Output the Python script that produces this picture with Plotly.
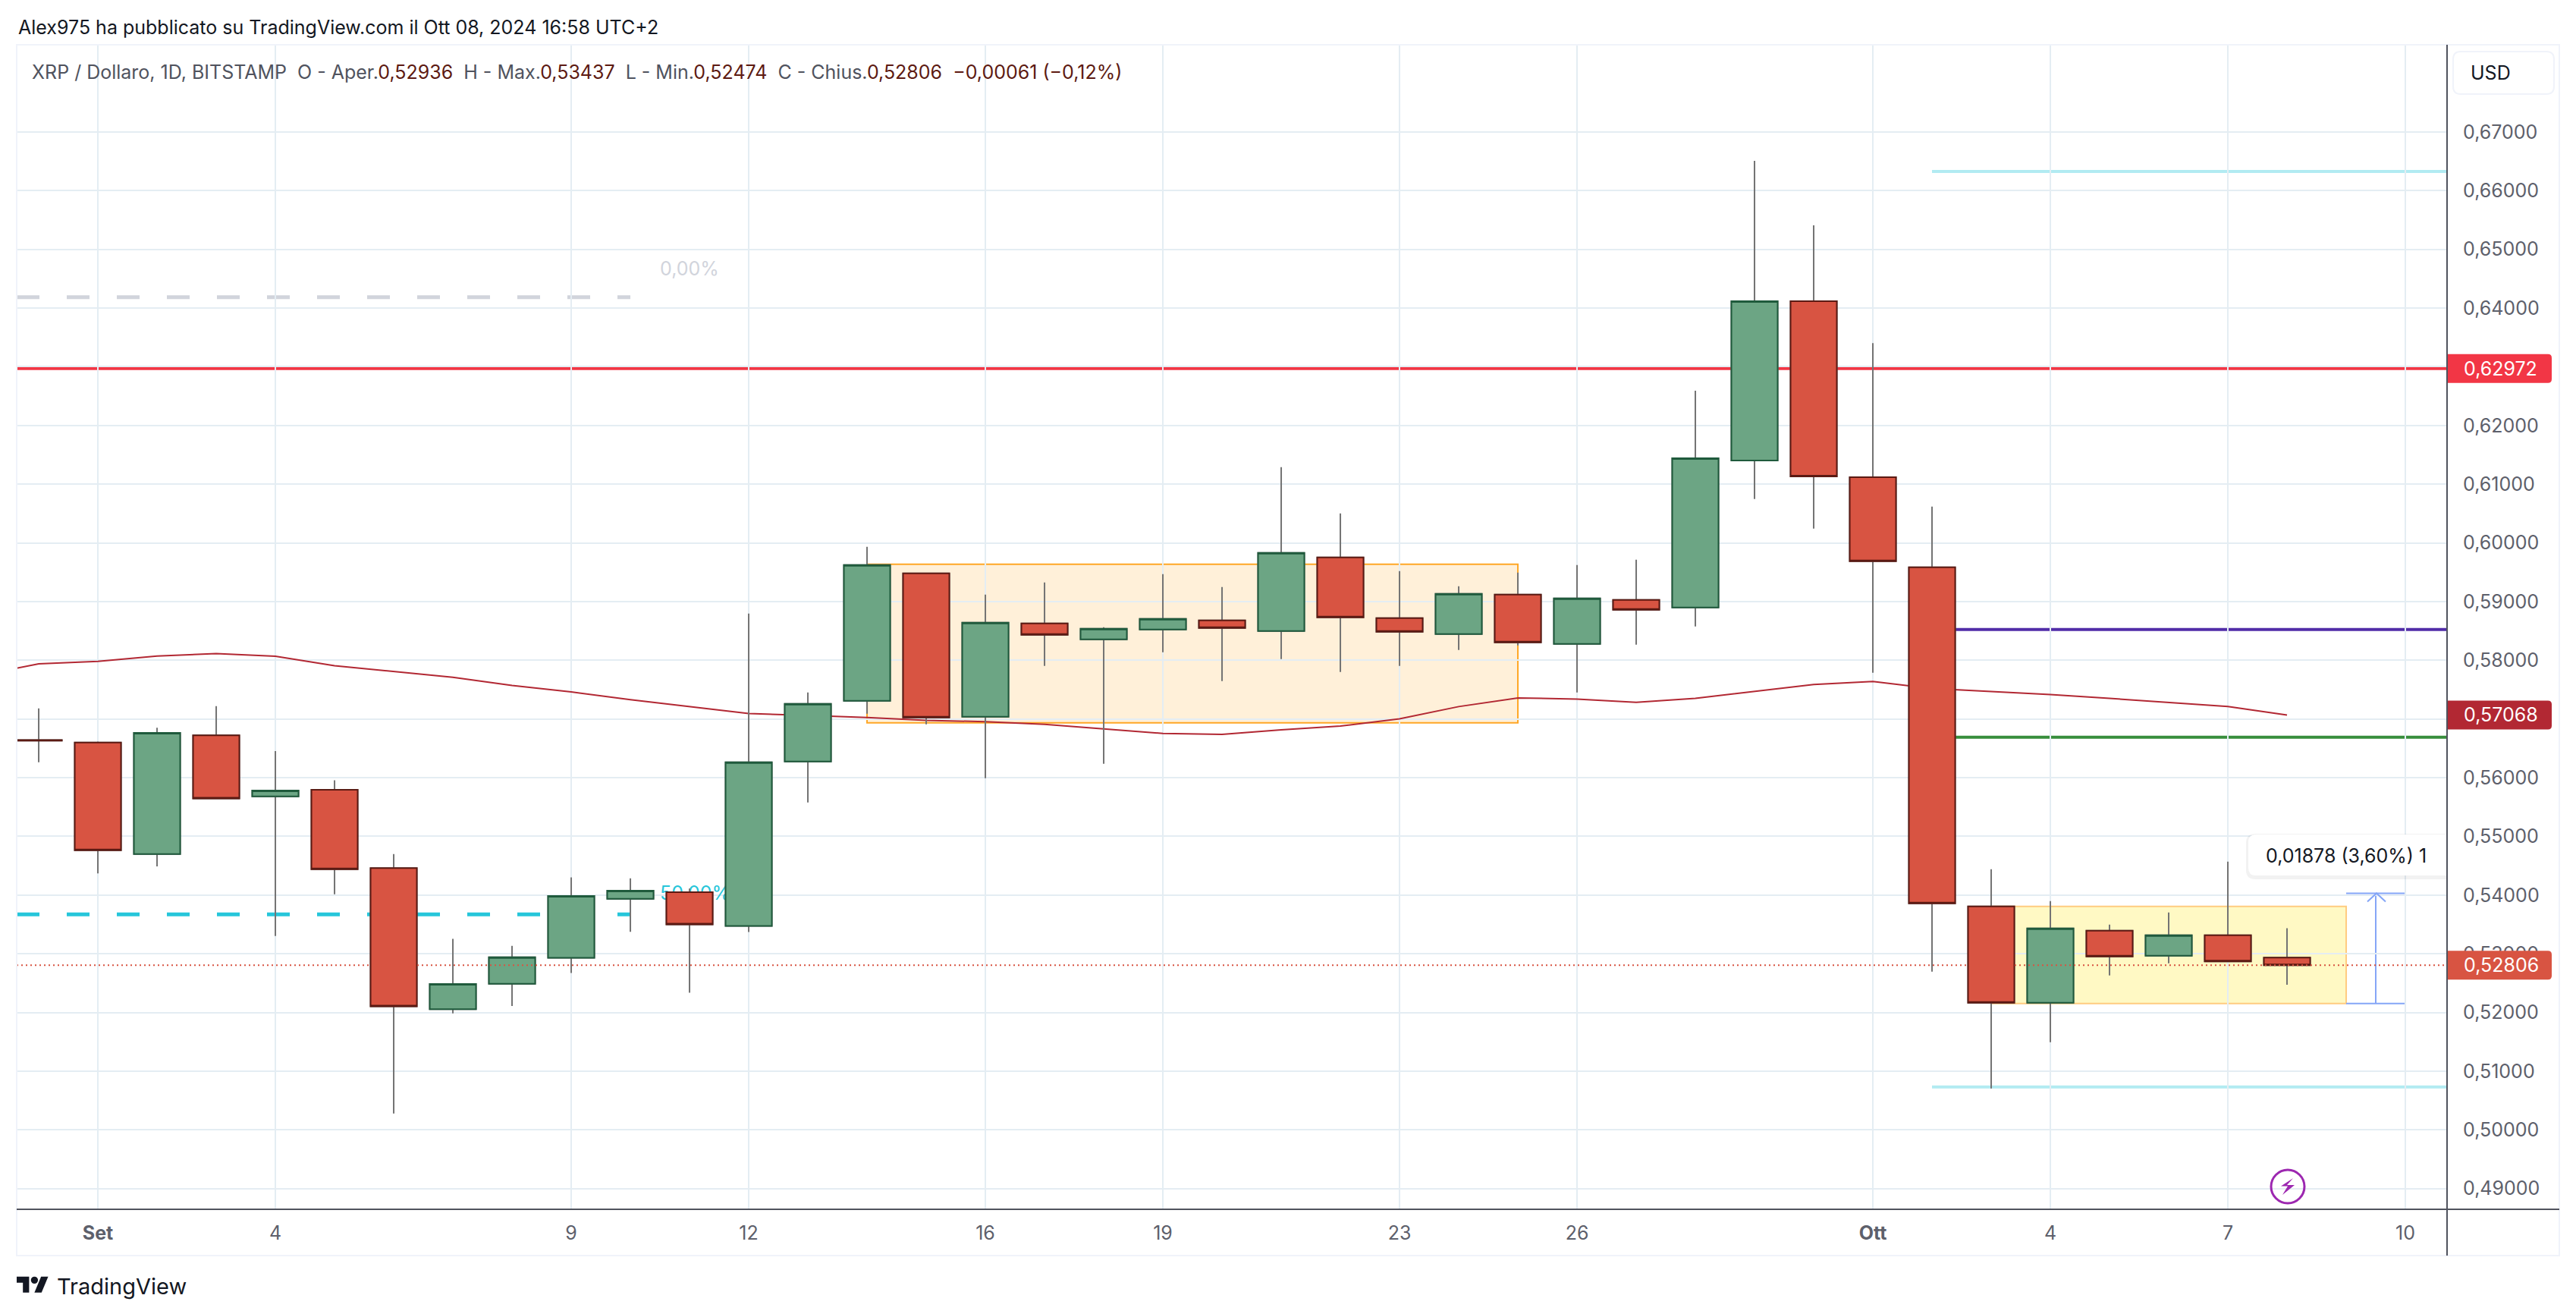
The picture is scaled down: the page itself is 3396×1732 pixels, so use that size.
import plotly.graph_objects as go

W, H = 3396, 1732
L_PX, R_PX, T_PX, B_PX = 22, 3226, 59, 1594
FRAME_R, FRAME_B = 3374, 1655
FONT = "Inter"

dates = ["2024-08-31","2024-09-01","2024-09-02","2024-09-03","2024-09-04","2024-09-05","2024-09-06","2024-09-07",
         "2024-09-08","2024-09-09","2024-09-10","2024-09-11","2024-09-12","2024-09-13","2024-09-14","2024-09-15",
         "2024-09-16","2024-09-17","2024-09-18","2024-09-19","2024-09-20","2024-09-21","2024-09-22","2024-09-23",
         "2024-09-24","2024-09-25","2024-09-26","2024-09-27","2024-09-28","2024-09-29","2024-09-30","2024-10-01",
         "2024-10-02","2024-10-03","2024-10-04","2024-10-05","2024-10-06","2024-10-07","2024-10-08"]
opens  = [.5664,.5660,.5470,.5672,.55682,.55794,.54461,.52056,.5249,.52933,.53935,.54048,.53473,.56276,.5731,.59482,
          .57039,.58629,.58357,.58525,.5868,.58499,.59753,.58719,.58448,.5912,.5828,.59029,.589,.61402,.64116,.61118,
          .59583,.53807,.52166,.53394,.52967,.53316,.52936]
highs  = [.5718,.56614,.5685,.5722,.56453,.55955,.547,.53255,.53136,.543,.54286,.5411,.58797,.57452,.59934,.59482,
          .5912,.59327,.58564,.59469,.59249,.61291,.60503,.5952,.59262,.59495,.59624,.59714,.62591,.66508,.65409,.63405,
          .60617,.54441,.53898,.53497,.53704,.5457,.53437]
lows   = [.56264,.5437,.5449,.5565,.53304,.54013,.5028,.51986,.52112,.52673,.53374,.52337,.5337,.55578,.5709,.5691,
          .55992,.57905,.56237,.58137,.57646,.58021,.57801,.57905,.58176,.58254,.57452,.58267,.58577,.60748,.60244,.57787,
          .52696,.50705,.51495,.52631,.52838,.5287,.52474]
closes = [.5663,.54763,.56762,.55647,.5578,.5444,.52105,.52484,.5294,.53985,.54076,.535,.56263,.57259,.59624,.57026,
          .58642,.58435,.58538,.58706,.58551,.59831,.58732,.58486,.59133,.58305,.59055,.58861,.61441,.64116,.61131,.59687,
          .53859,.52166,.53433,.52954,.53316,.5287,.52806]

ma_dates = ["2024-08-30"] + dates
ma_values = [.5774,.5794,.57981,.58073,.58114,.58068,.57906,.57808,.5771,.57571,.57462,.57329,.57208,.57092,.5706,.57026,
             .56978,.56953,.5691,.56832,.56754,.56737,.56815,.56879,.57004,.57211,.57358,.5734,.57284,.57353,.5747,.57586,
             .57638,.5752,.57468,.57416,.57351,.57282,.57213,.57068]

y_ticks = [.49,.50,.51,.52,.53,.54,.55,.56,.57,.58,.59,.60,.61,.62,.63,.64,.65,.66,.67]
y_labels = ["0,49000","0,50000","0,51000","0,52000","0,53000","0,54000","0,55000","0,56000","0,57000","0,58000",
            "0,59000","0,60000","0,61000","0,62000","0,63000","0,64000","0,65000","0,66000","0,67000"]
x_ticks = ["2024-09-01","2024-09-04","2024-09-09","2024-09-12","2024-09-16","2024-09-19","2024-09-23","2024-09-26",
           "2024-10-01","2024-10-04","2024-10-07","2024-10-10"]
x_labels = ["<b>Set</b>","4","9","12","16","19","23","26","<b>Ott</b>","4","7","10"]

x_range = ["2024-08-30 15:04", "2024-10-10 16:55"]
y_range = [0.48647, 0.68486]

last_price = 0.52806
ma_last = 0.57068
red_level = 0.62972
purple_level = 0.58523
green_level = 0.5669
cyan_top = 0.66328
cyan_bottom = 0.50731
fib_zero = 0.64184
fib_half = 0.5367
box_orange = (0.59637, 0.56935)
box_yellow = (0.53807, 0.52153)
measure = (0.54031, 0.52153)

GRID = "#e4edf3"
AXIS = "#50535e"
TXT = "#131722"
LABEL = "#5d606b"
RED = "#d85442"
RED_B = "#5b1a13"
GREEN = "#6ca584"
GREEN_B = "#1f5a3c"
WICK = "#737373"
BLUE = "#85a6f7"


def px(x):
    return (x - L_PX) / (R_PX - L_PX)


def py(y):
    return (B_PX - y) / (B_PX - T_PX)


def y_of(price):
    return T_PX + (y_range[1] - price) / (y_range[1] - y_range[0]) * (B_PX - T_PX)


def path(points, close=True):
    d = "M" + " L".join(f"{px(a):.6f},{py(b):.6f}" for a, b in points)
    return d + (" Z" if close else "")


def rounded(x0, y0, x1, y1, rl=0, rr=0):
    c = lambda a, b: f"{px(a):.6f},{py(b):.6f}"
    return (f"M{c(x0 + rl, y0)} L{c(x1 - rr, y0)} Q{c(x1, y0)} {c(x1, y0 + rr)} L{c(x1, y1 - rr)} Q{c(x1, y1)} {c(x1 - rr, y1)} "
            f"L{c(x0 + rl, y1)} Q{c(x0, y1)} {c(x0, y1 - rl)} L{c(x0, y0 + rl)} Q{c(x0, y0)} {c(x0 + rl, y0)} Z")


fig = go.Figure()

fig.add_trace(go.Scatter(x=ma_dates, y=ma_values, mode="lines", line=dict(color="#b22833", width=2),
                         zorder=-1, hoverinfo="skip", showlegend=False))
fig.add_trace(go.Scatter(x=["2024-09-10 12:00"], y=[0.5400], mode="text", text=["50,00%"], textposition="middle right",
                         textfont=dict(family=FONT, size=25, color="#26c6da"), zorder=-1, hoverinfo="skip", showlegend=False))
fig.add_trace(go.Scatter(x=["2024-09-10 12:00"], y=[0.6464], mode="text", text=["0,00%"], textposition="middle right",
                         textfont=dict(family=FONT, size=25, color="#d1d4dc"), zorder=-1, hoverinfo="skip", showlegend=False))

# wicks
fig.add_trace(go.Candlestick(x=dates, open=opens, high=highs, low=lows, close=closes,
                             increasing=dict(line=dict(color=WICK, width=2), fillcolor=GREEN),
                             decreasing=dict(line=dict(color=WICK, width=2), fillcolor=RED),
                             hoverinfo="skip", showlegend=False))
# bodies
fig.add_trace(go.Candlestick(x=dates, open=opens, close=closes,
                             high=[max(o, c) for o, c in zip(opens, closes)],
                             low=[min(o, c) for o, c in zip(opens, closes)],
                             increasing=dict(line=dict(color=GREEN_B, width=2), fillcolor=GREEN),
                             decreasing=dict(line=dict(color=RED_B, width=2), fillcolor=RED),
                             hoverinfo="skip", showlegend=False))

shapes = []


def hline(y, x0, x1, color, width, dash="solid", layer="below"):
    shapes.append(dict(type="line", xref="x", yref="y", x0=x0, x1=x1, y0=y, y1=y, layer=layer,
                       line=dict(color=color, width=width, dash=dash)))


shapes.append(dict(type="rect", xref="x", yref="y", x0="2024-09-14", x1="2024-09-25", y0=box_orange[0], y1=box_orange[1],
                   fillcolor="rgba(255,152,0,0.15)", line=dict(color="#ffa726", width=2), layer="below"))
shapes.append(dict(type="rect", xref="x", yref="y", x0="2024-10-03", x1="2024-10-09", y0=box_yellow[0], y1=box_yellow[1],
                   fillcolor="rgba(255,235,59,0.3)", line=dict(color="#ffcc80", width=2), layer="below"))
hline(red_level, x_range[0], x_range[1], "#f23645", 4)
hline(purple_level, "2024-10-02", x_range[1], "#512da8", 4)
hline(green_level, "2024-10-02", x_range[1], "#388e3c", 4)
hline(cyan_top, "2024-10-02", x_range[1], "#b2ebf2", 4)
hline(cyan_bottom, "2024-10-02", x_range[1], "#b2ebf2", 4)
hline(fib_zero, x_range[0], "2024-09-10", "#d1d4dc", 5, "30px,36px")
hline(fib_half, x_range[0], "2024-09-10", "#26c6da", 5, "30px,36px")
hline(last_price, x_range[0], x_range[1], RED, 2, "2px,4px", layer="above")

# measure tool
hline(measure[0], "2024-10-09", "2024-10-10", BLUE, 2)
hline(measure[1], "2024-10-09", "2024-10-10", BLUE, 2)
shapes.append(dict(type="line", xref="x", yref="y", x0="2024-10-09 12:00", x1="2024-10-09 12:00", y0=measure[0], y1=measure[1],
                   line=dict(color=BLUE, width=2), layer="below"))
ax, ay = 3133, y_of(measure[0])
shapes.append(dict(type="path", xref="paper", yref="paper", layer="above", line=dict(color=BLUE, width=2),
                   path=path([(ax - 12, ay + 11), (ax, ay), (ax + 12, ay + 11)], close=False)))

# measure tooltip
shapes.append(dict(type="path", xref="paper", yref="paper", layer="above", line=dict(width=0), fillcolor="rgba(0,0,0,0.05)",
                   path=rounded(2961, 1099, 3225, 1159, rl=12)))
shapes.append(dict(type="path", xref="paper", yref="paper", layer="above", line=dict(width=0), fillcolor="#ffffff",
                   path=rounded(2964, 1100, 3225, 1154, rl=10)))

# frame and axis lines
shapes.append(dict(type="rect", xref="paper", yref="paper", x0=px(L_PX), x1=px(FRAME_R), y0=py(T_PX), y1=py(FRAME_B),
                   line=dict(color="#f0f3fa", width=2), layer="above"))
shapes.append(dict(type="line", xref="paper", yref="paper", x0=px(L_PX), x1=px(FRAME_R), y0=py(B_PX), y1=py(B_PX),
                   line=dict(color=AXIS, width=2), layer="above"))
shapes.append(dict(type="line", xref="paper", yref="paper", x0=px(R_PX), x1=px(R_PX), y0=py(T_PX), y1=py(FRAME_B),
                   line=dict(color=AXIS, width=2), layer="above"))

# USD button
shapes.append(dict(type="path", xref="paper", yref="paper", layer="above", line=dict(color="#f0f3fa", width=2), fillcolor="#ffffff",
                   path=rounded(3234, 68, 3367, 124, rl=10, rr=10)))

# price tags
annotations = []
for price, color in [(red_level, "#f23645"), (ma_last, "#b22833"), (last_price, RED)]:
    yc = y_of(price)
    shapes.append(dict(type="path", xref="paper", yref="paper", layer="above", line=dict(width=0), fillcolor=color,
                       path=rounded(3227, yc - 19, 3364, yc + 19, rr=5)))
    annotations.append(dict(xref="paper", yref="paper", x=px(3246), y=py(yc), xanchor="left", yanchor="middle", showarrow=False,
                            text=f"{price:.5f}".replace(".", ","), font=dict(family=FONT, size=25, color="#ffffff")))

# lightning icon
cx, cy = 3016, 1564
shapes.append(dict(type="circle", xref="paper", yref="paper", x0=px(cx - 22), x1=px(cx + 22), y0=py(cy - 22), y1=py(cy + 22),
                   line=dict(color="#9c27b0", width=3), layer="above"))
shapes.append(dict(type="path", xref="paper", yref="paper", layer="above", line=dict(width=0), fillcolor="#9c27b0",
                   path=path([(cx + 7, cy - 11), (cx - 9, cy - 0.5), (cx, cy - 0.5), (cx - 7, cy + 11), (cx + 9, cy - 2), (cx - 1, cy - 2)])))

# TradingView logo
lx, ly, s = 22, 1678, 1.17
T = [(14, 22), (7, 22), (7, 11), (0, 11), (0, 4), (14, 4)]
V = [(28, 22), (20, 22), (27.5, 4), (35.5, 4)]
for poly in (T, V):
    shapes.append(dict(type="path", xref="paper", yref="paper", layer="above", line=dict(width=0), fillcolor=TXT,
                       path=path([(lx + a * s, ly + b * s) for a, b in poly])))
shapes.append(dict(type="circle", xref="paper", yref="paper", x0=px(lx + 16 * s), x1=px(lx + 24 * s), y0=py(ly + 4 * s), y1=py(ly + 12 * s),
                   fillcolor=TXT, line=dict(width=0), layer="above"))


def note(x, y, text, size, color=TXT):
    annotations.append(dict(xref="paper", yref="paper", x=px(x), y=py(y), xanchor="left", yanchor="middle", showarrow=False,
                            text=text, font=dict(family=FONT, size=size, color=color)))


def val(t):
    return f'<span style="color:#5d1a12">{t}</span>'


note(22, 36, "Alex975 ha pubblicato su TradingView.com il Ott 08, 2024 16:58 UTC+2", 25)
nb = "\u00a0\u00a0"
note(40, 95, "XRP / Dollaro, 1D, BITSTAMP" + nb + "O - Aper." + val("0,52936") + nb + "H - Max." + val("0,53437") + nb +
     "L - Min." + val("0,52474") + nb + "C - Chius." + val("0,52806") + nb + val("−0,00061 (−0,12%)"), 25, "#50535e")
note(3255, 96, "USD", 25)
note(2985, 1128, "0,01878 (3,60%) 1", 25)
note(73, 1696, "TradingView", 29)

fig.update_layout(
    width=W, height=H, autosize=False, paper_bgcolor="#ffffff", plot_bgcolor="#ffffff",
    margin=dict(l=L_PX, r=W - R_PX, t=T_PX, b=H - B_PX, pad=0),
    showlegend=False, boxgap=0.218, boxgroupgap=0, hovermode=False,
    shapes=shapes, annotations=annotations,
    xaxis=dict(type="date", range=x_range, tickmode="array", tickvals=x_ticks, ticktext=x_labels, showgrid=True, gridcolor=GRID,
               gridwidth=2, ticks="", showline=False, zeroline=False, rangeslider=dict(visible=False), automargin=False,
               tickfont=dict(family=FONT, size=25, color=LABEL), ticklabelstandoff=14),
    yaxis=dict(range=y_range, side="right", tickmode="array", tickvals=y_ticks, ticktext=y_labels, showgrid=True, gridcolor=GRID,
               gridwidth=2, ticks="", showline=False, zeroline=False, automargin=False,
               tickfont=dict(family=FONT, size=25, color=LABEL), ticklabelstandoff=20),
)

fig.write_html("out.html", config=dict(displayModeBar=False, responsive=False),
               post_script="document.body.style.margin='0';document.body.style.overflow='hidden';")
